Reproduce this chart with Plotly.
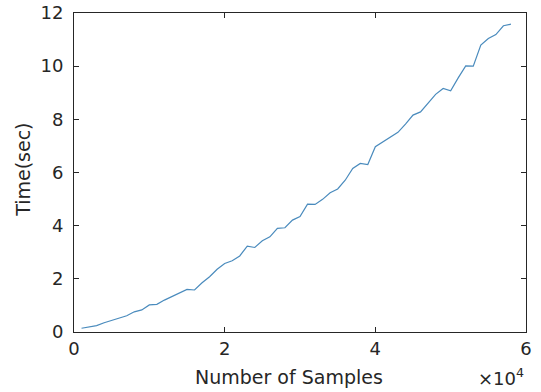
import plotly.graph_objects as go

samples = [i * 1000 for i in range(1, 59)]
time_sec = [0.14, 0.20, 0.24, 0.35, 0.43, 0.51, 0.61, 0.76, 0.83, 1.02,
            1.04, 1.20, 1.33, 1.48, 1.60, 1.58, 1.85, 2.08, 2.36, 2.58,
            2.68, 2.86, 3.23, 3.18, 3.43, 3.58, 3.90, 3.92, 4.21, 4.34,
            4.81, 4.80, 4.99, 5.24, 5.38, 5.71, 6.15, 6.34, 6.30, 6.97,
            7.15, 7.30, 7.51, 7.82, 8.16, 8.28, 8.60, 8.94, 9.16, 9.07,
            9.56, 10.01, 10.00, 10.79, 11.04, 11.19, 11.52, 11.58]

x_ticks = [0, 20000, 40000, 60000]
x_tick_labels = ["0", "2", "4", "6"]
y_ticks = [0, 2, 4, 6, 8, 10, 12]

ax_color = "#262626"
font = "DejaVu Sans"

fig = go.Figure()
fig.add_trace(go.Scatter(x=samples, y=time_sec, mode="lines",
                         line=dict(color="#4a8bbd", width=1.2),
                         showlegend=False))

axis_common = dict(showgrid=False, zeroline=False, showline=True, linecolor=ax_color,
                   linewidth=1, mirror="ticks", ticks="inside", ticklen=5,
                   tickcolor=ax_color, automargin=False,
                   tickfont=dict(family=font, size=18, color=ax_color))

fig.update_xaxes(range=[0, 60000], tickvals=x_ticks, ticktext=x_tick_labels, **axis_common)
fig.update_yaxes(range=[0, 12], tickvals=y_ticks, ticklabelstandoff=6, **axis_common)

fig.update_layout(
    width=541, height=392,
    margin=dict(l=74, r=15, t=13, b=60),
    plot_bgcolor="white", paper_bgcolor="white",
    font=dict(family=font, color=ax_color),
    annotations=[
        dict(text="Number of Samples", xref="paper", yref="paper", x=0.476, y=-0.141,
             xanchor="center", yanchor="middle", showarrow=False,
             font=dict(family=font, size=19, color=ax_color)),
        dict(text="Time(sec)", xref="paper", yref="paper", x=-0.113, y=0.508,
             xanchor="center", yanchor="middle", textangle=-90, showarrow=False,
             font=dict(family=font, size=19, color=ax_color)),
        dict(text="×10<sup>4</sup>", xref="paper", yref="paper", x=1.0, y=-0.185,
             xanchor="right", yanchor="bottom", showarrow=False,
             font=dict(family=font, size=18, color=ax_color)),
    ],
)

fig.write_html("out.html")
